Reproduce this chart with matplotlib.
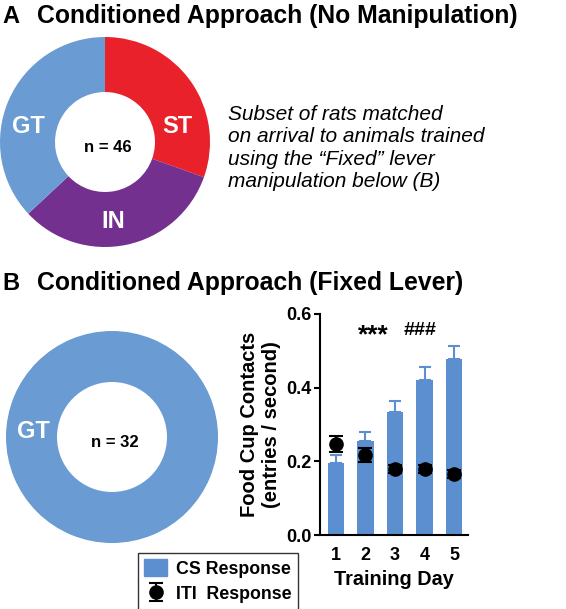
import numpy as np
import matplotlib
matplotlib.use("Agg")
import matplotlib.pyplot as plt
from matplotlib.patches import Patch

plt.rcParams['font.family'] = ['Liberation Sans', 'DejaVu Sans']

# panel A: phenotype split on arrival
phenos_a = ["ST", "IN", "GT"]
counts_a = [14, 15, 17]
colors_a = ["#E8212B", "#73308F", "#6A9BD2"]

# panel B: fixed lever group
phenos_b = ["GT"]
counts_b = [32]

# food cup contacts over training
days = [1, 2, 3, 4, 5]
cs_mean = [0.195, 0.256, 0.335, 0.422, 0.479]
cs_sem = [0.021, 0.023, 0.029, 0.034, 0.033]
iti_mean = [0.247, 0.217, 0.179, 0.179, 0.166]
iti_sem = [0.022, 0.018, 0.011, 0.012, 0.010]

W, H = 566, 609
fig = plt.figure(figsize=(W / 100, H / 100), dpi=100)


def px_axes(x0, y0, x1, y1):
    # pixel box (top-left origin) -> figure axes
    return fig.add_axes([x0 / W, 1 - y1 / H, (x1 - x0) / W, (y1 - y0) / H])


blue = "#6A9BD2"
bar_blue = "#5B8FD0"

# ---- A titles
fig.text(2 / W, 1 - 23 / H, "A", fontsize=17, fontweight="bold", va="baseline")
fig.text(37 / W, 1 - 23 / H, "Conditioned Approach (No Manipulation)",
         fontsize=17.8, fontweight="bold", va="baseline")

# ---- A donut
axA = px_axes(0, 37, 210, 247)
axA.pie(counts_a, colors=colors_a, startangle=90, counterclock=False,
        radius=1, wedgeprops=dict(width=1 - 50 / 105, linewidth=0))
axA.set_xlim(-1, 1)
axA.set_ylim(-1, 1)
axA.text(0.03, -0.05, "n = 46", ha="center", va="center", fontsize=12, fontweight="bold")
axA.text(0.69, 0.15, "ST", ha="center", va="center", color="white", fontsize=17, fontweight="bold")
axA.text(-0.73, 0.15, "GT", ha="center", va="center", color="white", fontsize=17, fontweight="bold")
axA.text(0.08, -0.76, "IN", ha="center", va="center", color="white", fontsize=17, fontweight="bold")

# multi-line baseline alignment goes by the last line
fig.text(228 / W, 1 - 187 / H,
         "Subset of rats matched\non arrival to animals trained\nusing the \u201cFixed\u201d lever\nmanipulation below (B)",
         fontsize=15, fontstyle="italic", va="baseline", linespacing=1.22)

# ---- B titles
fig.text(2 / W, 1 - 290 / H, "B", fontsize=17, fontweight="bold", va="baseline")
fig.text(37 / W, 1 - 290 / H, "Conditioned Approach (Fixed Lever)",
         fontsize=17.8, fontweight="bold", va="baseline")

# ---- B donut
axB = px_axes(6, 331, 218, 543)
axB.pie(counts_b, colors=[blue], startangle=90, radius=1,
        wedgeprops=dict(width=1 - 55 / 106, linewidth=0))
axB.set_xlim(-1, 1)
axB.set_ylim(-1, 1)
axB.text(0.03, -0.05, "n = 32", ha="center", va="center", fontsize=12, fontweight="bold")
axB.text(-0.74, 0.05, "GT", ha="center", va="center", color="white", fontsize=17, fontweight="bold")

# ---- bar chart
ax = px_axes(320, 314, 468, 535)
ax.bar(days, cs_mean, width=0.55, color=bar_blue, zorder=1)
ax.errorbar(days, cs_mean, yerr=[np.zeros(len(days)), cs_sem], fmt="none",
            ecolor=bar_blue, elinewidth=1.5, capsize=4, capthick=1.5, zorder=2)
iti = ax.errorbar(days, iti_mean, yerr=iti_sem, fmt="o", color="black",
                  markersize=9.5, elinewidth=1.5, capsize=5, capthick=1.5, zorder=3)
ax.set_xlim(0.46, 5.47)
ax.set_ylim(0, 0.6)
ax.set_yticks([0.0, 0.2, 0.4, 0.6])
ax.set_yticklabels(["0.0", "0.2", "0.4", "0.6"])
ax.set_xticks(days)
ax.tick_params(axis="x", length=0, pad=9, labelsize=13)
ax.tick_params(axis="y", length=4, width=1.5, labelsize=13, pad=2)
for lab in ax.get_xticklabels() + ax.get_yticklabels():
    lab.set_fontweight("bold")
for s in ["top", "right"]:
    ax.spines[s].set_visible(False)
for s in ["left", "bottom"]:
    ax.spines[s].set_linewidth(1.5)
ax.set_xlabel("Training Day", fontsize=14.3, fontweight="bold", labelpad=4)
ax.set_ylabel("Food Cup Contacts\n(entries / second)", fontsize=14.5,
              fontweight="bold", labelpad=4, linespacing=1.2)
ax.text(2.25, 0.524, "***", ha="center", va="baseline", fontsize=19, fontweight="bold")
ax.text(3.85, 0.544, "###", ha="center", va="baseline", fontsize=14, fontweight="bold")

# ---- legend
leg = fig.legend([Patch(color=bar_blue), iti], ["CS Response", "ITI  Response"],
                 loc="upper left", bbox_to_anchor=(138 / W, 1 - 553 / H),
                 bbox_transform=fig.transFigure, frameon=True, fancybox=False,
                 edgecolor="black", prop=dict(weight="bold", size=12.8),
                 handlelength=1.3, handleheight=1.1, handletextpad=0.5,
                 borderpad=0.35, labelspacing=0.4, borderaxespad=0)
leg.get_frame().set_linewidth(1.0)

fig.savefig("out.png", dpi=100)
